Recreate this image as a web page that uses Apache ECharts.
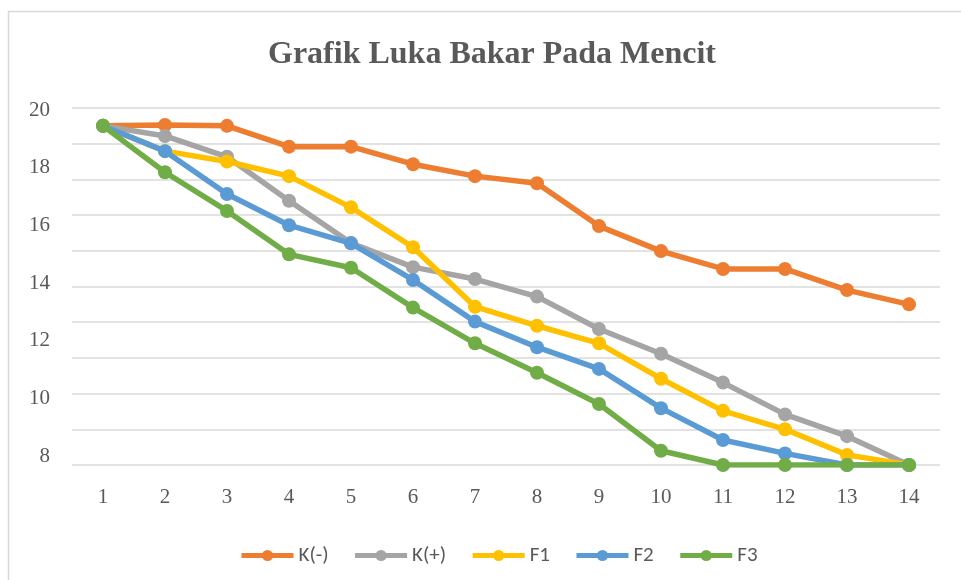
<!DOCTYPE html>
<html>
<head>
<meta charset="utf-8">
<script src="https://cdn.jsdelivr.net/npm/echarts@6/dist/echarts.min.js"></script>
<style>
html,body{margin:0;padding:0;background:#fff;}
#chart{width:961px;height:580px;}
</style>
</head>
<body>
<div id="chart"></div>
<script>
var categories = ['1','2','3','4','5','6','7','8','9','10','11','12','13','14'];
var seriesNames = ['K(-)','K(+)','F1','F2','F3'];
var kMinus = [19.4, 19.43, 19.4, 18.7, 18.7, 18.11, 17.71, 17.47, 16.03, 15.19, 14.59, 14.59, 13.88, 13.4];
var kPlus  = [19.4, 19.06, 18.36, 16.88, 15.46, 14.65, 14.25, 13.66, 12.57, 11.74, 10.77, 9.7, 8.97, 8];
var f1     = [19.4, 18.55, 18.2, 17.71, 16.66, 15.32, 13.32, 12.68, 12.09, 10.9, 9.82, 9.2, 8.34, 8];
var f2     = [19.4, 18.55, 17.11, 16.06, 15.45, 14.22, 12.82, 11.96, 11.23, 9.91, 8.84, 8.39, 8, 8];
var f3     = [19.4, 17.84, 16.54, 15.08, 14.63, 13.29, 12.09, 11.1, 10.05, 8.48, 8, 8, 8, 8];
var yTickLabels = [8, 10, 12, 14, 16, 18, 20];
var colors = ['#ED7D31', '#A5A5A5', '#FFC000', '#5B9BD5', '#70AD47'];
var allData = [kMinus, kPlus, f1, f2, f3];

var chart = echarts.init(document.getElementById('chart'), null, {renderer: 'canvas'});

var series = seriesNames.map(function (name, i) {
  return {
    name: name,
    type: 'line',
    xAxisIndex: 0,
    yAxisIndex: 0,
    data: allData[i],
    symbol: 'circle',
    symbolSize: 14,
    lineStyle: {width: 5.5, color: colors[i]},
    itemStyle: {color: colors[i]},
    animation: false,
    z: 2 + i
  };
});

chart.setOption({
  animation: false,
  color: colors,
  title: {
    text: 'Grafik Luka Bakar Pada Mencit',
    left: 268,
    top: 39,
    padding: 0,
    textStyle: {
      fontFamily: '"Liberation Serif", "Times New Roman", serif',
      fontWeight: 'bold',
      fontSize: 32,
      color: '#595959'
    }
  },
  legend: {
    data: seriesNames,
    left: 234,
    top: 540,
    itemWidth: 52,
    itemHeight: 14,
    itemGap: 24,
    lineStyle: {width: 5},
    textStyle: {
      fontFamily: 'Carlito, Lato, "Open Sans", sans-serif',
      fontSize: 21,
      color: '#595959'
    }
  },
  graphic: [{
    type: 'rect',
    shape: {x: 8.5, y: 11.5, width: 1000, height: 1000},
    style: {fill: 'none', stroke: '#D9D9D9', lineWidth: 1.5},
    silent: true,
    z: -10
  }],
  grid: [
    {left: 72, right: 21, top: 108, bottom: 115},
    {left: 72, right: 21, top: 110, bottom: 124}
  ],
  xAxis: [
    {
      type: 'category',
      gridIndex: 0,
      data: categories,
      boundaryGap: true,
      axisLine: {show: false},
      axisTick: {show: false},
      axisLabel: {
        margin: 22,
        fontFamily: '"Liberation Serif", "Times New Roman", serif',
        fontSize: 21,
        color: '#595959'
      },
      splitLine: {show: false}
    },
    {
      type: 'value',
      gridIndex: 1,
      min: 0,
      max: 1,
      show: false
    }
  ],
  yAxis: [
    {
      type: 'value',
      gridIndex: 0,
      min: 8,
      max: 20,
      axisLine: {show: false},
      axisTick: {show: false},
      axisLabel: {show: false},
      splitLine: {show: false}
    },
    {
      type: 'value',
      gridIndex: 0,
      min: 0,
      max: 10,
      interval: 1,
      axisLine: {show: false},
      axisTick: {show: false},
      axisLabel: {show: false},
      splitLine: {show: true, lineStyle: {color: '#D9D9D9', width: 1.5}}
    },
    {
      type: 'value',
      gridIndex: 1,
      min: yTickLabels[0],
      max: yTickLabels[yTickLabels.length - 1],
      interval: 2,
      axisLine: {show: false},
      axisTick: {show: false},
      splitLine: {show: false},
      axisLabel: {
        margin: 22,
        fontFamily: '"Liberation Serif", "Times New Roman", serif',
        fontSize: 21,
        color: '#595959'
      }
    }
  ],
  series: series
});
</script>
</body>
</html>
